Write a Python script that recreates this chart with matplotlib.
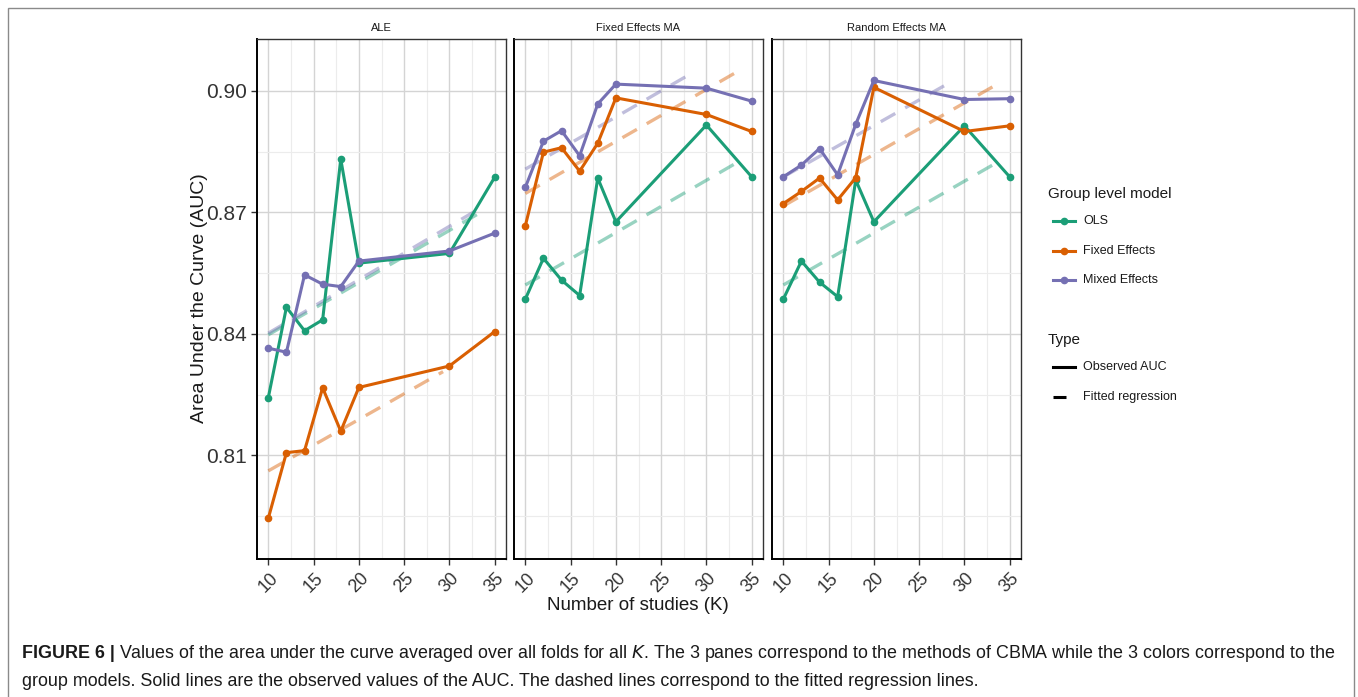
import matplotlib
matplotlib.use("Agg")
import matplotlib.pyplot as plt
from matplotlib.lines import Line2D
from matplotlib.patches import Rectangle
import numpy as np

plt.rcParams['font.family'] = ['Liberation Sans', 'DejaVu Sans']

# data
K = [10, 12, 14, 16, 18, 20, 30, 35]
panels = ["ALE", "Fixed Effects MA", "Random Effects MA"]
models = ["OLS", "Fixed Effects", "Mixed Effects"]
colors = ["#1B9E77", "#D95F02", "#7570B3"]

ale_ols = [0.8243, 0.8466, 0.8408, 0.8435, 0.8832, 0.8575, 0.8599, 0.8787]
ale_fixed = [0.7945, 0.8107, 0.8112, 0.8267, 0.8160, 0.8268, 0.8321, 0.8406]
ale_mixed = [0.8365, 0.8355, 0.8546, 0.8523, 0.8517, 0.8580, 0.8605, 0.8649]

fe_ols = [0.8486, 0.8587, 0.8533, 0.8495, 0.8785, 0.8677, 0.8916, 0.8788]
fe_fixed = [0.8667, 0.8849, 0.8860, 0.8802, 0.8871, 0.8983, 0.8942, 0.8900]
fe_mixed = [0.8762, 0.8876, 0.8902, 0.8840, 0.8968, 0.9017, 0.9007, 0.8975]

re_ols = [0.8486, 0.8580, 0.8528, 0.8492, 0.8780, 0.8677, 0.8914, 0.8788]
re_fixed = [0.8722, 0.8752, 0.8785, 0.8731, 0.8786, 0.9009, 0.8900, 0.8914]
re_mixed = [0.8788, 0.8817, 0.8858, 0.8793, 0.8918, 0.9026, 0.8979, 0.8981]

# fitted regression lines: (K start, K end), (value start, value end)
ale_fit_k = [[10, 33.9], [10, 29.3], [10, 33.5]]
ale_fit_v = [[0.8398, 0.8706], [0.8062, 0.8307], [0.8402, 0.8712]]
fe_fit_k = [[10, 33.9], [10, 33.9], [10, 28.7]]
fe_fit_v = [[0.8521, 0.8830], [0.8747, 0.9054], [0.8807, 0.9048]]
re_fit_k = [[10, 33.8], [10, 33.8], [10, 28.8]]
re_fit_v = [[0.8521, 0.8826], [0.8716, 0.9019], [0.8788, 0.9026]]

observed = [[ale_ols, ale_fixed, ale_mixed],
            [fe_ols, fe_fixed, fe_mixed],
            [re_ols, re_fixed, re_mixed]]
fits_k = [ale_fit_k, fe_fit_k, re_fit_k]
fits_v = [ale_fit_v, fe_fit_v, re_fit_v]

W, H = 1358, 697
fig = plt.figure(figsize=(W / 100, H / 100), dpi=100)

# outer frame
fig.patches.append(Rectangle((8 / W, -0.02), (1354 - 8) / W, 1.02 - 8 / H,
                             transform=fig.transFigure, fill=False,
                             edgecolor="#8a8a8a", linewidth=1.0))

lefts = [257, 514, 772]
pw = 249
top_px, bot_px = 39, 559
axes = []
for i, name in enumerate(panels):
    ax = fig.add_axes([lefts[i] / W, 1 - bot_px / H, pw / W, (bot_px - top_px) / H])
    axes.append(ax)
    ax.set_xlim(8.75, 36.25)
    ax.set_ylim(0.78444, 0.91284)
    ax.set_xticks([10, 15, 20, 25, 30, 35])
    ax.set_xticks([12.5, 17.5, 22.5, 27.5, 32.5], minor=True)
    ax.set_yticks([0.81, 0.84, 0.87, 0.90])
    ax.set_yticks([0.795, 0.825, 0.855, 0.885], minor=True)
    ax.grid(True, which="major", color="#d4d4d4", linewidth=1.0)
    ax.grid(True, which="minor", color="#ececec", linewidth=0.8)
    ax.set_axisbelow(True)
    for s in ax.spines.values():
        s.set_color("#333333")
        s.set_linewidth(1.0)
    ax.spines["left"].set_color("black")
    ax.spines["bottom"].set_color("black")
    ax.spines["left"].set_linewidth(1.4)
    ax.spines["bottom"].set_linewidth(1.4)
    ax.tick_params(which="minor", length=0)
    ax.tick_params(which="major", length=4, color="#333333", width=1.0,
                   labelcolor="#333333")
    ax.tick_params(axis="x", labelsize=13, pad=13)
    ax.tick_params(axis="y", labelsize=15)
    ax.set_xticklabels([str(t) for t in [10, 15, 20, 25, 30, 35]],
                       rotation=45, ha="center", va="center")
    if i == 0:
        ax.set_yticklabels(["0.81", "0.84", "0.87", "0.90"])
    else:
        ax.tick_params(axis="y", labelleft=False, length=0)
    ax.set_title(name, fontsize=8, color="#1a1a1a", pad=6)

    for j in range(3):
        ax.plot(fits_k[i][j], fits_v[i][j], color=colors[j], alpha=0.45,
                linewidth=2.4, linestyle=(0, (5, 3.4)), solid_capstyle="butt",
                dash_capstyle="butt", zorder=2)
    for j in range(3):
        ax.plot(K, observed[i][j], color=colors[j], linewidth=2.2,
                marker="o", markersize=4.5, zorder=3)

fig.text(200 / W, 1 - 298 / H, "Area Under the Curve (AUC)", rotation=90,
         ha="center", va="center", fontsize=14, color="#1a1a1a")
fig.text(638 / W, 1 - 606 / H, "Number of studies (K)", ha="center", va="center",
         fontsize=13.5, color="#1a1a1a")

# legend
fig.text(1048 / W, 1 - 194 / H, "Group level model", ha="left", va="center",
         fontsize=11, color="#1a1a1a")
for j, (m, c) in enumerate(zip(models, colors)):
    y = 1 - (221 + 29.5 * j) / H
    fig.add_artist(Line2D([1053 / W, 1075 / W], [y, y], color=c, linewidth=2.2,
                          transform=fig.transFigure))
    fig.add_artist(Line2D([1064 / W], [y], color=c, marker="o", markersize=4.5,
                          transform=fig.transFigure))
    fig.text(1083 / W, y, m, ha="left", va="center", fontsize=9, color="#1a1a1a")

fig.text(1048 / W, 1 - 340 / H, "Type", ha="left", va="center",
         fontsize=11, color="#1a1a1a")
y1 = 1 - 367 / H
fig.add_artist(Line2D([1053 / W, 1075 / W], [y1, y1], color="black", linewidth=2.2,
                      transform=fig.transFigure))
fig.text(1083 / W, y1, "Observed AUC", ha="left", va="center", fontsize=9,
         color="#1a1a1a")
y2 = 1 - 397 / H
fig.add_artist(Line2D([1053 / W, 1066 / W], [y2, y2], color="black", linewidth=2.2,
                      transform=fig.transFigure, solid_capstyle="butt"))
fig.text(1083 / W, y2, "Fitted regression", ha="left", va="center", fontsize=9,
         color="#1a1a1a")

# caption
cap_size = 12.9
bold = fig.text(22 / W, 1 - 653 / H, "FIGURE 6 |", ha="left", va="center",
                fontsize=cap_size, fontweight="bold", color="#1a1a1a")
fig.canvas.draw()
r = fig.canvas.get_renderer()
bb = bold.get_window_extent(r)
fig.text((bb.x1 + 4) / W, 1 - 653 / H,
         "Values of the area under the curve averaged over all folds for all $K$. "
         "The 3 panes correspond to the methods of CBMA while the 3 colors correspond to the",
         ha="left", va="center", fontsize=cap_size, color="#1a1a1a")
fig.text(22 / W, 1 - 681 / H,
         "group models. Solid lines are the observed values of the AUC. "
         "The dashed lines correspond to the fitted regression lines.",
         ha="left", va="center", fontsize=cap_size, color="#1a1a1a")

fig.savefig("out.png", dpi=100)
